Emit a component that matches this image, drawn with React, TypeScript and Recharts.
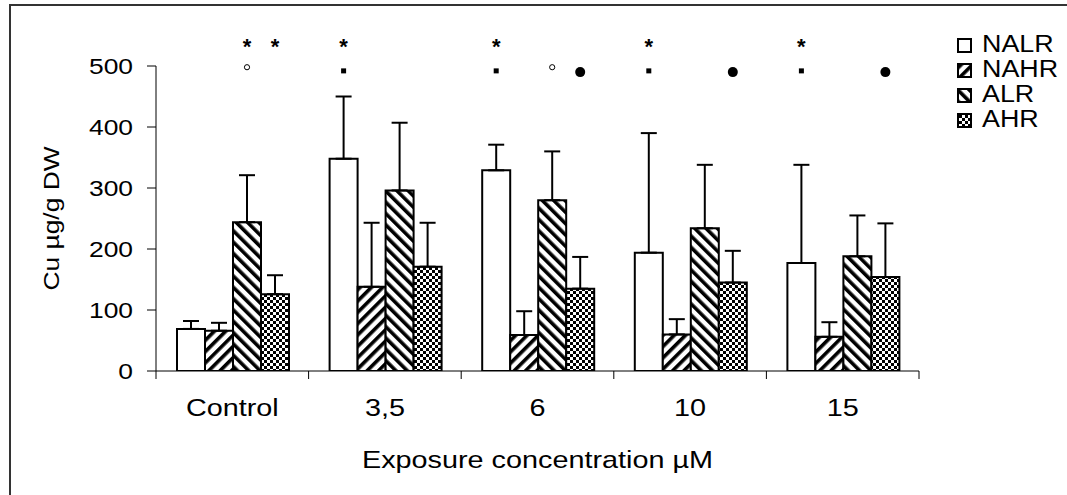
import React from 'react';
import { BarChart, Bar, XAxis, YAxis, ErrorBar, LabelList, Legend } from 'recharts';

// ---- data ----
const categories = ['Control', '3,5', '6', '10', '15'];
const nalrMean = [69, 348, 329, 194, 177];
const nalrErr = [13, 102, 42, 196, 161];
const nahrMean = [66, 138, 59, 60, 56];
const nahrErr = [13, 105, 39, 25, 24];
const alrMean = [244, 296, 280, 234, 188];
const alrErr = [77, 111, 80, 104, 67];
const ahrMean = [126, 171, 135, 145, 154];
const ahrErr = [31, 72, 52, 52, 88];
const yTicks = [0, 100, 200, 300, 400, 500];

// significance annotations per category
const nalrStar = [false, true, true, true, true];
const nalrSymbol = ['', 'square', 'square', 'square', 'square'];
const alrStar = [true, false, false, false, false];
const alrSymbol = ['open', '', 'open', '', ''];
const ahrStar = [true, false, false, false, false];
const ahrSymbol = ['', '', 'dot', 'dot', 'dot'];
const noStar = [false, false, false, false, false];
const noSymbol = ['', '', '', '', ''];

const STAR_LEVEL = 540;
const SYMBOL_LEVEL = 492;

const data = categories.map((c, i) => ({
  cat: c,
  NALR: nalrMean[i],
  NALRe: [0, nalrErr[i]],
  NAHR: nahrMean[i],
  NAHRe: [0, nahrErr[i]],
  ALR: alrMean[i],
  ALRe: [0, alrErr[i]],
  AHR: ahrMean[i],
  AHRe: [0, ahrErr[i]],
}));

const FONT = '"Liberation Sans", Arial, sans-serif';
const SX = 1.2;

const series = [
  { key: 'NALR', fill: '#ffffff', stars: nalrStar, symbols: nalrSymbol },
  { key: 'NAHR', fill: 'url(#patFwd)', stars: noStar, symbols: noSymbol },
  { key: 'ALR', fill: 'url(#patBack)', stars: alrStar, symbols: alrSymbol },
  { key: 'AHR', fill: 'url(#patCheck)', stars: ahrStar, symbols: ahrSymbol },
];

const YTick = (p: any) => (
  <text
    transform={`translate(${p.x},${p.y}) scale(${SX},1)`}
    textAnchor="end"
    dy="0.355em"
    fontFamily={FONT}
    fontSize={22}
    fill="#000"
  >
    {p.payload.value}
  </text>
);

const XTick = (p: any) => {
  const { x, y, payload, index, visibleTicksCount } = p;
  const half = payload.offset != null && payload.offset > 0 ? payload.offset : p.width / (2 * visibleTicksCount);
  return (
    <g>
      <line x1={x - half} x2={x - half} y1={y} y2={y + 8} stroke="#000" strokeWidth={1} />
      {index === visibleTicksCount - 1 && (
        <line x1={x + half} x2={x + half} y1={y} y2={y + 8} stroke="#000" strokeWidth={1} />
      )}
      <text
        transform={`translate(${x},${y + 45}) scale(${SX},1)`}
        textAnchor="middle"
        fontFamily={FONT}
        fontSize={24}
        fill="#000"
      >
        {payload.value}
      </text>
    </g>
  );
};

const XTitle = (p: any) => {
  const vb = p.viewBox || {};
  return (
    <text
      transform={`translate(${vb.x + vb.width / 2},${vb.y + 97}) scale(${SX},1)`}
      textAnchor="middle"
      fontFamily={FONT}
      fontSize={24}
      fill="#000"
    >
      Exposure concentration µM
    </text>
  );
};

const YTitle = (p: any) => {
  const vb = p.viewBox || {};
  return (
    <text
      transform={`translate(${vb.x + vb.width - 97},${vb.y + vb.height / 2}) rotate(-90) scale(${SX},1)`}
      textAnchor="middle"
      fontFamily={FONT}
      fontSize={22}
      fill="#000"
    >
      Cu µg/g DW
    </text>
  );
};

const makeMarks = (stars: boolean[], symbols: string[]) => (p: any) => {
  const { x, y, width, height, value, index } = p;
  const v = Number(value);
  if (!v || !height) return null;
  const k = height / v;
  const base = y + height;
  const toY = (val: number) => base - val * k;
  const cx = x + width / 2;
  const out: any[] = [];
  if (stars[index]) {
    out.push(
      <text key="s" x={cx} y={toY(STAR_LEVEL) + 12} textAnchor="middle" fontFamily={FONT} fontSize={22} fontWeight="bold" fill="#000">
        *
      </text>
    );
  }
  const s = symbols[index];
  if (s === 'square') {
    out.push(<rect key="q" x={cx - 2.5} y={toY(SYMBOL_LEVEL) - 2.5} width={5} height={5} fill="#000" />);
  } else if (s === 'open') {
    out.push(<circle key="o" cx={cx} cy={toY(SYMBOL_LEVEL + 6)} r={2.6} fill="#fff" stroke="#000" strokeWidth={1} />);
  } else if (s === 'dot') {
    out.push(<circle key="d" cx={cx} cy={toY(SYMBOL_LEVEL - 2)} r={5} fill="#000" />);
  }
  return <g>{out}</g>;
};

const LegendContent = () => (
  <svg width={117} height={112} style={{ display: 'block', overflow: 'visible' }}>
    {series.map((s, i) => (
      <g key={s.key}>
        <rect x={8} y={11 + 25 * i} width={13} height={13} fill={s.fill} stroke="#000" strokeWidth={2} />
        <text
          transform={`translate(32,${24 + 25 * i}) scale(1.12,1)`}
          fontFamily={FONT}
          fontSize={24}
          fill="#000"
        >
          {s.key}
        </text>
      </g>
    ))}
  </svg>
);

export default function App() {
  return (
    <div style={{ position: 'absolute', left: 0, top: 0, width: 1067, height: 495, background: '#fff' }}>
      <div
        style={{
          position: 'absolute',
          left: 9,
          top: 4,
          width: 1058,
          height: 491,
          boxSizing: 'border-box',
          borderLeft: '2px solid #333',
          borderTop: '2px solid #333',
        }}
      />
      <div style={{ position: 'absolute', left: 0, top: 0 }}>
        <BarChart
          width={1067}
          height={495}
          data={data}
          margin={{ top: 66, right: 148, left: 96, bottom: 74 }}
          barGap={0}
          barCategoryGap={21}
        >
          <defs>
            <pattern id="patFwd" patternUnits="userSpaceOnUse" width={8} height={8} patternTransform="rotate(45)">
              <rect x={0} y={0} width={8} height={8} fill="#fff" />
              <rect x={0} y={0} width={3.6} height={8} fill="#000" />
            </pattern>
            <pattern id="patBack" patternUnits="userSpaceOnUse" width={8} height={8} patternTransform="rotate(-45)">
              <rect x={0} y={0} width={8} height={8} fill="#fff" />
              <rect x={0} y={0} width={3.6} height={8} fill="#000" />
            </pattern>
            <pattern id="patCheck" patternUnits="userSpaceOnUse" width={6} height={6}>
              <rect x={0} y={0} width={6} height={6} fill="#fff" />
              <rect x={0} y={0} width={3} height={3} fill="#000" />
              <rect x={3} y={3} width={3} height={3} fill="#000" />
            </pattern>
          </defs>
          <XAxis
            dataKey="cat"
            height={50}
            axisLine={{ stroke: '#000', strokeWidth: 1 }}
            tickLine={false}
            tickSize={0}
            tickMargin={0}
            tick={<XTick />}
            interval={0}
            label={<XTitle />}
          />
          <YAxis
            width={60}
            domain={[0, 500]}
            ticks={yTicks}
            allowDataOverflow
            axisLine={{ stroke: '#000', strokeWidth: 1 }}
            tickLine={{ stroke: '#000', strokeWidth: 1 }}
            tickSize={9}
            tickMargin={14}
            tick={<YTick />}
            label={<YTitle />}
          />
          <Legend
            layout="vertical"
            align="center"
            verticalAlign="middle"
            content={<LegendContent />}
            wrapperStyle={{ position: 'absolute', left: 950, top: 28, width: 117, height: 112 }}
          />
          {series.map((s) => (
            <Bar
              key={s.key}
              dataKey={s.key}
              name={s.key}
              fill={s.fill}
              stroke="#000"
              strokeWidth={2}
              isAnimationActive={false}
            >
              <ErrorBar dataKey={`${s.key}e`} direction="y" width={8} stroke="#000" strokeWidth={2} />
              <LabelList dataKey={s.key} content={makeMarks(s.stars, s.symbols)} />
            </Bar>
          ))}
        </BarChart>
      </div>
    </div>
  );
}
